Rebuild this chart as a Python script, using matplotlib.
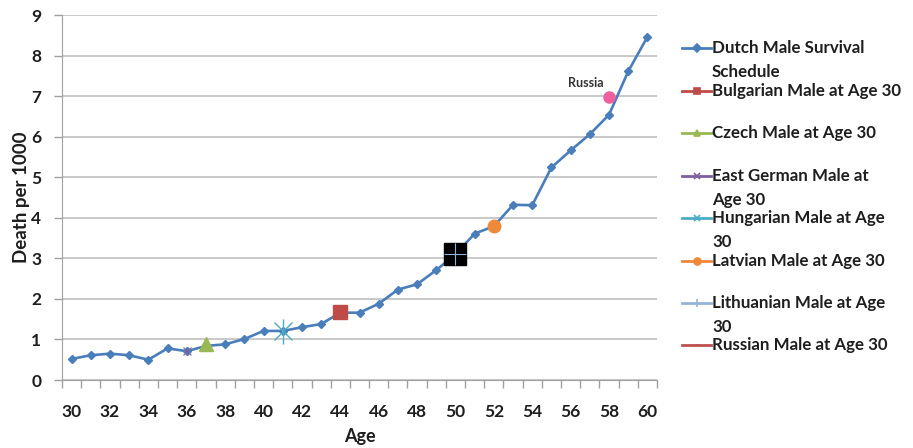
import matplotlib
matplotlib.use("Agg")
import matplotlib.pyplot as plt
from matplotlib.lines import Line2D

plt.rcParams['font.family'] = ['Lato', 'DejaVu Sans']

# ---- data ----
ages = list(range(30, 61))
dutch = [0.52, 0.61, 0.65, 0.61, 0.50, 0.78, 0.71, 0.84, 0.88, 1.01,
         1.21, 1.21, 1.30, 1.38, 1.66, 1.66, 1.88, 2.23, 2.36, 2.71,
         3.10, 3.61, 3.79, 4.32, 4.31, 5.24, 5.66, 6.06, 6.54, 7.61, 8.46]
bulgarian = (44, 1.67)
czech = (37, 0.88)
east_german = (36, 0.71)
hungarian = (41, 1.21)
latvian = (52, 3.80)
lithuanian = (50, 3.10)
black_point = (50, 3.10)
russia_point = (58, 6.98)
russia_label = "Russia"

legend_labels = ["Dutch Male Survival\nSchedule",
                 "Bulgarian Male at Age 30",
                 "Czech Male at Age 30",
                 "East German Male at\nAge 30",
                 "Hungarian Male at Age\n30",
                 "Latvian Male at Age 30",
                 "Lithuanian Male at Age\n30",
                 "Russian Male at Age 30"]
x_ticks = list(range(30, 61, 2))
y_ticks = list(range(0, 10))

# ---- styles ----
C_DUTCH = '#4A7EBB'
C_BUL = '#BE4B48'
C_CZE = '#98B954'
C_EG = '#7D60A0'
C_HUN = '#4BACC6'
C_LAT = '#F0883A'
C_LIT = '#95B3D7'
C_RUS = '#C0504D'
C_PINK = '#F0609E'
TXT = '#1E1E1E'

W, H = 913, 448
fig = plt.figure(figsize=(W / 100, H / 100), dpi=100)
ax = fig.add_axes([62 / W, 1 - 380 / H, (657 - 62) / W, (380 - 15) / H])

ax.plot(ages, dutch, color=C_DUTCH, lw=1.9, marker='D', ms=4.5,
        mfc=C_DUTCH, mec=C_DUTCH, zorder=3)
ax.plot(*bulgarian, marker='s', ms=10, color=C_BUL, zorder=4, ls='none')
ax.plot(*czech, marker='^', ms=10, color=C_CZE, zorder=4, ls='none')
ax.plot(*east_german, marker='x', ms=6, color=C_EG, mew=1.0, alpha=0.8, zorder=4, ls='none')
ax.plot(*east_german, marker='|', ms=6, color=C_EG, mew=1.0, alpha=0.8, zorder=4, ls='none')
ax.plot(*hungarian, marker='x', ms=13, color=C_HUN, mew=1.0, zorder=4, ls='none')
ax.plot(*hungarian, marker='|', ms=18, color=C_HUN, mew=1.0, zorder=4, ls='none')
ax.plot(*latvian, marker='o', ms=9, color=C_LAT, zorder=4, ls='none')
ax.plot(*black_point, marker='s', ms=16, color='black', zorder=5, ls='none')
ax.plot(*lithuanian, marker='+', ms=16, color=C_LIT, mew=0.8, zorder=6, ls='none')
ax.plot(*russia_point, marker='o', ms=8, color=C_PINK, zorder=4, ls='none')
ax.annotate(russia_label, xy=russia_point, xytext=(-4, 6), textcoords='offset points',
            ha='right', va='bottom', fontsize=9, fontweight='bold', color='#333333')

ax.set_xlim(29.5, 60.5)
ax.set_ylim(0, 9)
ax.set_xticks(x_ticks)
ax.set_xticks([a + 0.5 for a in range(29, 61)], minor=True)
ax.tick_params(axis='x', which='major', length=0, pad=17, labelsize=12.5)
ax.tick_params(axis='x', which='minor', length=6, color='#A0A0A0', width=1)
ax.set_yticks(y_ticks)
ax.tick_params(axis='y', length=6, color='#A0A0A0', width=1, pad=9, labelsize=12.5)
for lab in ax.get_xticklabels() + ax.get_yticklabels():
    lab.set_fontweight('bold')
    lab.set_color(TXT)
ax.grid(axis='y', color='#BFBFBF', lw=1.2)
ax.set_axisbelow(True)
for s in ['top', 'right']:
    ax.spines[s].set_visible(False)
ax.spines['left'].set_color('#A0A0A0')
ax.spines['bottom'].set_color('#A0A0A0')
ax.set_xlabel('Age', fontsize=13, fontweight='bold', labelpad=6, color=TXT)
ax.set_ylabel('Death per 1000', fontsize=13.5, fontweight='bold', labelpad=1, color=TXT)

# ---- manual legend (Excel-like layout) ----
leg_y = [48, 91, 133, 176, 218, 261, 303, 345]
leg_styles = [
    dict(color=C_DUTCH, marker='D', ms=4),
    dict(color=C_BUL, marker='s', ms=5),
    dict(color=C_CZE, marker='^', ms=5),
    dict(color=C_EG, marker='x', ms=5),
    dict(color=C_HUN, marker='x', ms=5),
    dict(color=C_LAT, marker='o', ms=5),
    dict(color=C_LIT, marker='|', ms=6),
    dict(color=C_RUS, marker='_', ms=3),
]
line_pitch = 24
for lab, yp, st in zip(legend_labels, leg_y, leg_styles):
    yf = 1 - yp / H
    fig.add_artist(Line2D([682 / W, 711 / W], [yf, yf], transform=fig.transFigure,
                          lw=2, color=st['color']))
    fig.add_artist(Line2D([696.5 / W], [yf], transform=fig.transFigure,
                          marker=st['marker'], ms=st['ms'], color=st['color'],
                          mew=1.2, ls='none'))
    for i, part in enumerate(lab.split('\n')):
        fig.text(712 / W, 1 - (yp + i * line_pitch) / H, part, ha='left',
                 va='center', fontsize=12.2, fontweight='bold', color=TXT)

fig.savefig('out.png', dpi=100)
